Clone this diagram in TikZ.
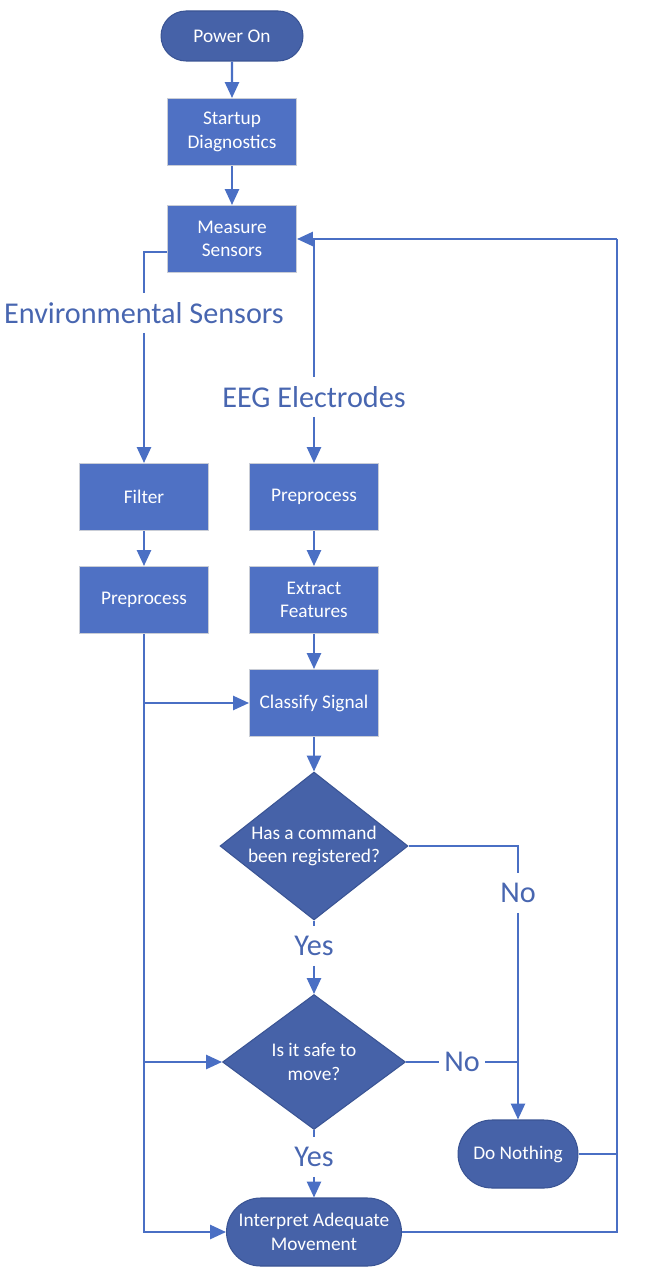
\documentclass[tikz,border=0pt]{standalone}
\usepackage{fontspec}
\setmainfont{Carlito}
\usetikzlibrary{arrows.meta,positioning,shapes.geometric,shapes.misc}
\definecolor{boxblue}{HTML}{4F71C4}
\definecolor{termblue}{HTML}{4662A8}
\definecolor{lineblue}{HTML}{4A6FC4}
\definecolor{boxedge}{HTML}{C9CDD6}
\definecolor{termedge}{HTML}{3A5494}
\definecolor{lblblue}{HTML}{4866B0}
\newcommand{\boxfont}{\fontsize{11}{13.5}\selectfont}
\newcommand{\lblfont}{\fontsize{17.2}{19}\selectfont}

\begin{document}
\begin{tikzpicture}[x=0.02cm, y=-0.02cm, >={Triangle[length=9pt,width=8pt]},
  proc/.style={rectangle, fill=boxblue, draw=boxedge, line width=0.6pt,
    minimum width=2.58cm, minimum height=1.34cm, text=white, align=center,
    font=\boxfont, inner sep=2pt},
  term/.style={rounded rectangle, fill=termblue, draw=termedge, line width=0.6pt,
    minimum height=1.36cm, text=white, align=center, font=\boxfont, inner sep=2pt},
  decide/.style={diamond, fill=termblue, draw=termedge, line width=0.6pt,
    aspect=1.27, inner sep=-2pt, text=white, align=center, font=\boxfont},
  flow/.style={->, draw=lineblue, line width=1.2pt},
  link/.style={draw=lineblue, line width=1.2pt},
  lbl/.style={text=lblblue, font=\lblfont, inner sep=0pt, minimum height=0.78cm}]

\useasboundingbox (0,0) rectangle (656,1287);

%% === Start-up and measurement ===
\node[term, minimum width=2.98cm, minimum height=1.0cm] (pwr) at (232,36) {Power On};
\node[proc] (diag) at (232,132) {Startup\\Diagnostics};
\node[proc] (ms) at (232,239) {Measure\\Sensors};

%% === Branch labels ===
\node[lbl] (envlbl) at (144,313) {Environmental Sensors};
\node[lbl] (eeglbl) at (314,397) {EEG Electrodes};

%% === Left column: environmental ===
\node[proc] (filt) at (144,497) {Filter};
\node[proc] (pp1) at (144,600) {Preprocess};

%% === Middle column: EEG ===
\node[proc] (pp2) at (314,497) {Preprocess};
\node[proc] (feat) at (314,600) {Extract\\Features};
\node[proc] (cls) at (314,703) {Classify Signal};

%% === Decisions ===
\node[decide, minimum width=3.76cm, minimum height=2.96cm] (d1) at (314,846)
  {Has a command\\been registered?};
\node[decide, minimum width=3.66cm, minimum height=2.7cm] (d2) at (314,1062)
  {Is it safe to\\move?};
\node[lbl] (yes1) at (314,946) {Yes};
\node[lbl] (yes2) at (314,1157) {Yes};
\node[lbl] (no1) at (518,893) {No};
\node[lbl, inner xsep=3pt] (no2) at (462,1062) {No};

%% === End states ===
\node[term, minimum width=3.64cm] (im) at (314,1232) {Interpret Adequate\\Movement};
\node[term, minimum width=2.54cm] (dn) at (518,1154) {Do Nothing};

%% return line
\coordinate (rbot) at (617,1232);
\coordinate (rtop) at (ms.east -| rbot);

%% === Connectors ===
\draw[flow] (pwr) -- (diag);
\draw[flow] (diag) -- (ms);
\draw[link] ([yshift=-0.26cm]ms.west) -| (envlbl.north);
\draw[flow] (envlbl.south) -- (filt.north);
\draw[link] (eeglbl.north |- rtop) -- (eeglbl.north);
\draw[flow] (eeglbl.south) -- (pp2.north);
\draw[flow] (filt) -- (pp1);
\draw[flow] (pp2) -- (feat);
\draw[flow] (feat) -- (cls);
\draw[flow] (cls) -- (d1);

% environmental trunk
\draw[flow] (pp1.south) |- (im.west);
\draw[flow] (pp1.south |- cls.west) -- (cls.west);
\draw[flow] (pp1.south |- d2.west) -- (d2.west);

% yes / no
\draw[link] (d1.south) -- (yes1.north);
\draw[flow] (yes1.south) -- (d2.north);
\draw[link] (d2.south) -- (yes2.north);
\draw[flow] (yes2.south) -- (im.north);
\draw[link] (d1.east) -| (no1.north);
\draw[flow] (no1.south) -- (dn.north);
\draw[link] (d2.east) -- (no2.west);
\draw[link] (no2.east) -- (no2.east -| dn.north);

% back to measuring
\draw[link] (im.east) -- (rbot) -- (rtop);
\draw[link] (dn.east) -- (dn.east -| rbot);
\draw[flow] (rtop) -- (ms.east);

\end{tikzpicture}
\end{document}
